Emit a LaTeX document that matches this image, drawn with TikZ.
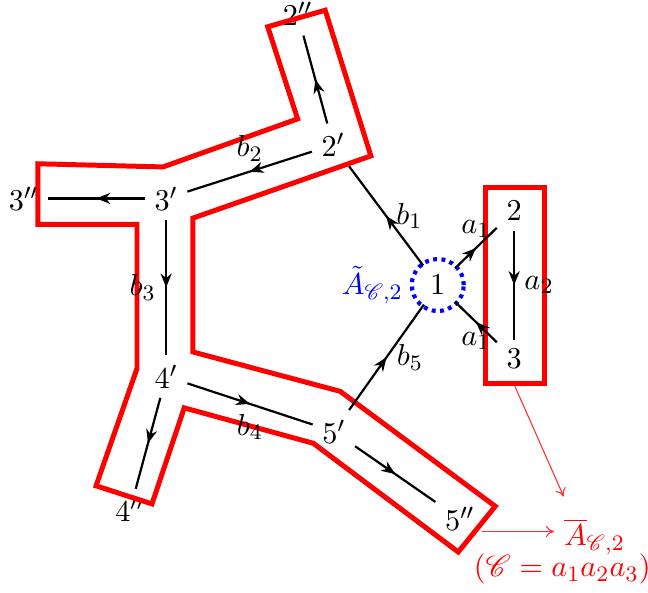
\documentclass[tikz,border=0pt]{standalone}
\usepackage{amsmath}
\usepackage{mathrsfs}
\usetikzlibrary{arrows.meta, decorations.markings, positioning}

\tikzset{
    every node/.style={font=\fontsize{11pt}{13pt}\selectfont},
    edge/.style={thick, postaction={decorate},
        decoration={markings,
            mark=at position 0.5 with {\arrow{Stealth[length=5pt,width=4pt]}}}},
    hull/.style={red, line width=1.8pt},
    pointer/.style={red!80, line width=0.4pt, -{To[length=3pt,width=4pt]}},
}

\begin{document}
\begin{tikzpicture}

\useasboundingbox (0,0) rectangle (8.23,7.52);

% ── Vertices ─────────────────────────────────────────────────────────────────
\node (n1)   at (5.56,3.90) {$1$};
\node (n2)   at (6.53,4.84) {$2$};
\node (n3)   at (6.53,2.96) {$3$};
\node (n2p)  at (4.23,5.68) {$2'$};
\node (n2pp) at (3.78,7.34) {$2''$};
\node (n3p)  at (2.11,5.00) {$3'$};
\node (n3pp) at (0.30,5.00) {$3''$};
\node (n4p)  at (2.11,2.74) {$4'$};
\node (n4pp) at (1.65,1.04) {$4''$};
\node (n5p)  at (4.24,2.04) {$5'$};
\node (n5pp) at (5.84,0.93) {$5''$};

% ── Red hull around the primed vertices ─────────────────────────────────────
\draw[hull] (3.40,7.18) -- (4.13,7.39) -- (4.71,5.54) -- (2.45,4.75)
    -- (2.45,3.05) -- (4.32,2.55) -- (6.29,1.09) -- (5.82,0.51)
    -- (3.98,1.89) -- (2.34,2.34) -- (1.93,1.12) -- (1.22,1.35)
    -- (1.74,2.84) -- (1.74,4.67) -- (0.48,4.67) -- (0.48,5.44)
    -- (2.07,5.40) -- (3.78,6.01) -- cycle;

% ── Red box around the cycle a_1 a_2 a_3 ────────────────────────────────────
\node[hull, draw, minimum width=0.74cm, minimum height=2.49cm]
    (box) at (6.54,3.89) {};

% ── Dotted ring around vertex 1 ─────────────────────────────────────────────
\node[circle, draw=blue, line width=1.5pt, dash pattern=on 1.4pt off 1.6pt,
    minimum size=0.66cm] (ring) at (n1) {};
\node[blue, left=-1pt of ring] (atilde) {$\tilde{A}_{\mathscr{C},2}$};

% ── Edges ────────────────────────────────────────────────────────────────────
\draw[edge] (n1) -- node[above] {$a_1$} (n2);
\draw[edge] (n2) -- node[right] {$a_2$} (n3);
\draw[edge] (n3) -- node[below] {$a_1$} (n1);
\draw[edge] (n1) -- node[right] {$b_1$} (n2p);
\draw[edge] (n2p) -- node[above] {$b_2$} (n3p);
\draw[edge] (n3p) -- node[left] {$b_3$} (n4p);
\draw[edge] (n4p) -- node[below] {$b_4$} (n5p);
\draw[edge] (n5p) -- node[right] {$b_5$} (n1);
\draw[edge] (n2p) -- (n2pp);
\draw[edge] (n3p) -- (n3pp);
\draw[edge] (n4p) -- (n4pp);
\draw[edge] (n5p) -- (n5pp);

% ── Quotient label ───────────────────────────────────────────────────────────
\node[red] (abar) at (7.55,0.70) {$\overline{A}_{\mathscr{C},2}$};
\node[red] (cdef) at (7.14,0.29) {$(\mathscr{C}=a_1a_2a_3)$};

\coordinate (tail) at (6.12,0.77);
\draw[pointer] (box.south) -- ([shift={(0.12,0.16)}]abar.north west);
\draw[pointer] (tail) -- (abar.west |- tail);

\end{tikzpicture}
\end{document}
